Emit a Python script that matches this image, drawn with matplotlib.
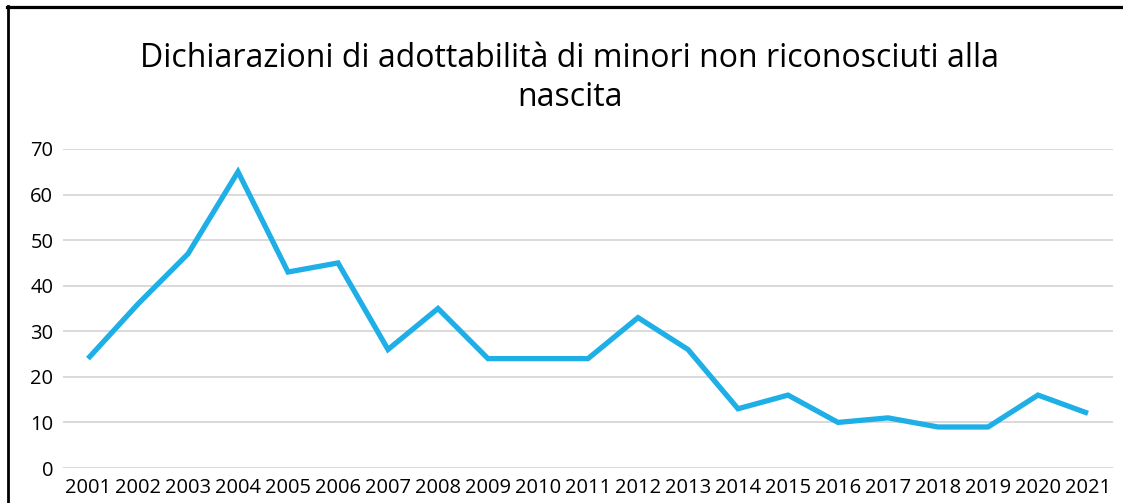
import matplotlib
matplotlib.use("Agg")
import matplotlib.pyplot as plt
from matplotlib.lines import Line2D

years = [str(y) for y in range(2001, 2022)]
values = [24, 36, 47, 65, 43, 45, 26, 35, 24, 24, 24, 33, 26, 13, 16, 10, 11, 9, 9, 16, 12]
yticks = [0, 10, 20, 30, 40, 50, 60, 70]
title = "Dichiarazioni di adottabilità di minori non riconosciuti alla\nnascita"

plt.rcParams['font.family'] = ['Open Sans', 'DejaVu Sans']

W, H = 1123, 503
fig = plt.figure(figsize=(W / 100, H / 100), dpi=100)
ax = fig.add_axes([63 / W, 1 - 468 / H, (1113 - 63) / W, (468 - 149) / H])

x = list(range(len(years)))
ax.plot(x, values, color='#1EAFE6', lw=3.8, solid_joinstyle='miter', solid_capstyle='butt', zorder=3)

ax.set_xlim(-0.5, len(years) - 0.5)
ax.set_ylim(0, 70)
ax.set_yticks(yticks)
ax.set_xticks(x)
ax.set_xticklabels(years)
for s in ax.spines.values():
    s.set_visible(False)
ax.grid(axis='y', color='#D9D9D9', lw=1.4, zorder=0)
ax.tick_params(axis='both', length=0, labelsize=14.5, colors='#000000')
ax.tick_params(axis='y', pad=7)
ax.tick_params(axis='x', pad=7)

fig.text(570 / W, 1 - 78 / H, title, ha='center', va='center', fontsize=23,
         linespacing=1.22, color='#000000')

# borders
fig.add_artist(Line2D([7 / W, 1], [1 - 7 / H, 1 - 7 / H], color='black', lw=2.3, transform=fig.transFigure))
fig.add_artist(Line2D([8 / W, 8 / W], [0, 1 - 6 / H], color='black', lw=2.0, transform=fig.transFigure))

fig.savefig("out.png", dpi=100)
